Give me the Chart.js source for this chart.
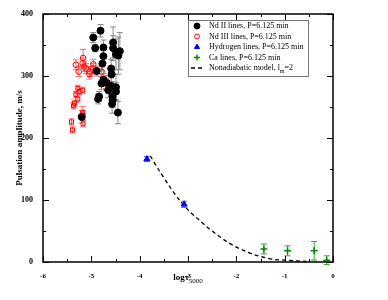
<!DOCTYPE html>
<html>
<head>
<meta charset="utf-8">
<script src="https://cdn.jsdelivr.net/npm/chart.js@4.4.1/dist/chart.umd.min.js"></script>
<style>
  html, body { margin: 0; padding: 0; background: #fff; }
</style>
</head>
<body>
<canvas id="c" width="388" height="300"></canvas>
<script>
// Nd II lines (log tau, amplitude, error)
const ndIIX = [-4.96, -4.81, -4.92, -4.75, -4.55, -4.55, -4.49, -4.41, -4.44, -4.75, -4.77, -4.89, -4.59, -4.58,
  -4.75, -4.68, -4.79, -4.59, -4.49, -4.49, -4.84, -4.86, -4.56, -4.56, -4.57, -4.45, -5.20, -4.65];
const ndIIY = [362, 373, 345, 346, 354, 345, 335, 340, 333, 332, 320, 308, 312, 303,
  294, 289, 288, 284, 282, 275, 267, 263, 267, 261, 255, 241, 234, 277];
const ndIIErr = [8, 10, 6, 12, 25, 20, 25, 30, 30, 10, 12, 8, 15, 12,
  10, 12, 10, 15, 20, 15, 8, 8, 12, 12, 15, 18, 10, 12];

// Nd III lines, upper group (circles)
const ndIIIaX = [-5.32, -5.26, -5.17, -5.18, -5.15, -5.11, -4.96, -5.03, -4.97, -4.79, -4.73, -4.70, -5.04];
const ndIIIaY = [318, 307, 329, 321, 315, 312, 319, 307, 312, 307, 292, 288, 303];
const ndIIIaErr = [8, 8, 14, 8, 8, 8, 8, 8, 8, 8, 8, 8, 8];
// Nd III lines, lower group (squares)
const ndIIIbX = [-5.28, -5.25, -5.18, -5.32, -5.28, -5.35, -5.37, -5.18, -5.17, -5.17, -5.41, -5.39];
const ndIIIbY = [280, 275, 277, 270, 263, 256, 252, 241, 237, 223, 226, 213];
const ndIIIbErr = [5, 5, 5, 5, 5, 5, 5, 10, 8, 5, 5, 5];

// Hydrogen lines
const hX = [-3.85, -3.08];
const hY = [166, 93];
const hErr = [4, 5];

// Ca lines
const caX = [-1.43, -0.94, -0.39, -0.13];
const caY = [21, 18, 18, 3];
const caErr = [8, 8, 15, 7];

// Nonadiabatic model
const modelX = [-3.78, -3.6, -3.4, -3.2, -3.0, -2.8, -2.6, -2.4, -2.2, -2.0, -1.8, -1.6, -1.4, -1.2, -1.0, -0.8, -0.55];
const modelY = [171, 148, 124, 102, 84, 70, 56, 44, 33, 24, 17, 11, 7, 4, 3, 2, 1];

const legendLabels = ['Nd II lines, P=6.125 min', 'Nd III lines, P=6.125 min', 'Hydrogen lines, P=6.125 min',
  'Ca lines, P=6.125 min', 'Nonadiabatic model, l'];

const xTicks = [-6, -5, -4, -3, -2, -1, 0];
const yTicks = [0, 100, 200, 300, 400];

const pts = (xs, ys) => xs.map((x, i) => ({ x, y: ys[i] }));
const SERIF = '"Liberation Serif", "DejaVu Serif", serif';

const ndIIIX = ndIIIaX.concat(ndIIIbX);
const ndIIIY = ndIIIaY.concat(ndIIIbY);
const ndIIIErr = ndIIIaErr.concat(ndIIIbErr);
const ndIIIStyle = ndIIIaX.map(() => 'circle').concat(ndIIIbX.map(() => 'rect'));

const decor = {
  id: 'decor',
  beforeDatasetsDraw(chart) {
    const ctx = chart.ctx;
    const xs = chart.scales.x, ys = chart.scales.y;
    ctx.save();
    chart.data.datasets.forEach((ds) => {
      if (!ds.errors) return;
      ctx.strokeStyle = ds.errColor;
      ctx.lineWidth = 1;
      ds.data.forEach((p, i) => {
        const px = xs.getPixelForValue(p.x);
        const y1 = ys.getPixelForValue(p.y - ds.errors[i]);
        const y2 = ys.getPixelForValue(p.y + ds.errors[i]);
        ctx.beginPath();
        ctx.moveTo(px, y1); ctx.lineTo(px, y2);
        ctx.moveTo(px - 3, y1); ctx.lineTo(px + 3, y1);
        ctx.moveTo(px - 3, y2); ctx.lineTo(px + 3, y2);
        ctx.stroke();
      });
    });
    ctx.restore();
  },
  afterDraw(chart) {
    const ctx = chart.ctx;
    const a = chart.chartArea;
    const xs = chart.scales.x, ys = chart.scales.y;
    ctx.save();
    ctx.strokeStyle = '#000';
    ctx.lineWidth = 1.5;
    ctx.strokeRect(a.left, a.top, a.right - a.left, a.bottom - a.top);
    ctx.lineWidth = 1;
    ctx.beginPath();
    for (let v = xs.min; v <= xs.max + 1e-9; v += 0.5) {
      const px = Math.round(xs.getPixelForValue(v)) + 0.5;
      const len = Number.isInteger(v) ? 6 : 3;
      ctx.moveTo(px, a.bottom); ctx.lineTo(px, a.bottom - len);
      ctx.moveTo(px, a.top); ctx.lineTo(px, a.top + len);
    }
    for (let v = ys.min; v <= ys.max + 1e-9; v += 50) {
      const py = Math.round(ys.getPixelForValue(v)) + 0.5;
      const len = v % 100 === 0 ? 6 : 3;
      ctx.moveTo(a.left, py); ctx.lineTo(a.left + len, py);
      ctx.moveTo(a.right, py); ctx.lineTo(a.right - len, py);
    }
    ctx.stroke();

    // axis titles
    ctx.fillStyle = '#000';
    ctx.font = 'bold 9px ' + SERIF;
    ctx.textBaseline = 'alphabetic';
    const cx = (a.left + a.right) / 2;
    const main = 'log\u03C4';
    const sub = '5000';
    const w1 = ctx.measureText(main).width;
    ctx.font = '7px ' + SERIF;
    const w2 = ctx.measureText(sub).width;
    const sx = cx - (w1 + w2) / 2;
    ctx.font = 'bold 9px ' + SERIF;
    ctx.textAlign = 'left';
    ctx.fillText(main, sx, 280);
    ctx.font = '7px ' + SERIF;
    ctx.fillText(sub, sx + w1, 283);

    ctx.save();
    ctx.translate(19, (a.top + a.bottom) / 2);
    ctx.rotate(-Math.PI / 2);
    ctx.font = 'bold 9px ' + SERIF;
    ctx.textAlign = 'center';
    ctx.fillText('Pulsation amplitude, m/s', 0, 3);
    ctx.restore();

    // legend
    const lx = 188, ly = 20, lw = 120, lh = 56;
    ctx.fillStyle = '#fff';
    ctx.fillRect(lx, ly, lw, lh);
    ctx.strokeStyle = '#777';
    ctx.lineWidth = 1;
    ctx.strokeRect(lx + 0.5, ly + 0.5, lw, lh);
    chart.data.datasets.forEach((ds, i) => {
      const y = ly + 6 + i * 10.5;
      const sxm = lx + 9;
      ctx.save();
      if (ds.showLine) {
        ctx.strokeStyle = ds.borderColor;
        ctx.lineWidth = 1.5;
        ctx.setLineDash([4, 3]);
        ctx.beginPath();
        ctx.moveTo(lx + 3, y); ctx.lineTo(lx + 16, y);
        ctx.stroke();
      } else {
        const style = Array.isArray(ds.pointStyle) ? ds.pointStyle[0] : ds.pointStyle;
        ctx.fillStyle = ds.backgroundColor;
        ctx.strokeStyle = ds.borderColor;
        ctx.lineWidth = ds.borderWidth;
        Chart.helpers.drawPoint(ctx, {
          pointStyle: style, radius: ds.pointRadius * 0.85, borderWidth: ds.borderWidth, rotation: 0
        }, sxm, y);
      }
      ctx.restore();
      ctx.fillStyle = '#000';
      ctx.font = '8px ' + SERIF;
      ctx.textAlign = 'left';
      ctx.textBaseline = 'middle';
      ctx.fillText(legendLabels[i], lx + 21, y);
      if (ds.showLine) {
        const w = ctx.measureText(legendLabels[i]).width;
        ctx.font = '6px ' + SERIF;
        ctx.fillText('m', lx + 21 + w, y + 3);
        const wm = ctx.measureText('m').width;
        ctx.font = '8px ' + SERIF;
        ctx.fillText('=2', lx + 21 + w + wm, y);
      }
    });
    ctx.restore();
  }
};

new Chart(document.getElementById('c'), {
  type: 'scatter',
  data: {
    datasets: [
      {
        label: legendLabels[0],
        data: pts(ndIIX, ndIIY),
        errors: ndIIErr,
        errColor: '#8a8a8a',
        pointStyle: 'circle',
        pointRadius: 3.5,
        backgroundColor: '#000',
        borderColor: '#000',
        borderWidth: 1,
      },
      {
        label: legendLabels[1],
        data: pts(ndIIIX, ndIIIY),
        errors: ndIIIErr,
        errColor: '#ff6666',
        pointStyle: ndIIIStyle,
        pointRadius: 2.8,
        backgroundColor: 'rgba(255,255,255,0)',
        borderColor: '#ff0000',
        borderWidth: 1,
      },
      {
        label: legendLabels[2],
        data: pts(hX, hY),
        errors: hErr,
        errColor: '#6666ff',
        pointStyle: 'triangle',
        pointRadius: 3.5,
        backgroundColor: '#0000ff',
        borderColor: '#0000ff',
        borderWidth: 1,
      },
      {
        label: legendLabels[3],
        data: pts(caX, caY),
        errors: caErr,
        errColor: '#33aa33',
        pointStyle: 'cross',
        pointRadius: 3.5,
        backgroundColor: '#008800',
        borderColor: '#008800',
        borderWidth: 1.5,
      },
      {
        label: legendLabels[4],
        data: pts(modelX, modelY),
        showLine: true,
        borderColor: '#000',
        borderWidth: 1.3,
        borderDash: [4, 3],
        pointRadius: 0,
        tension: 0.3,
      },
    ],
  },
  options: {
    responsive: false,
    devicePixelRatio: 1,
    animation: false,
    layout: { padding: { left: 0, right: 55, top: 14, bottom: 0 } },
    scales: {
      x: {
        type: 'linear',
        min: -6,
        max: 0,
        afterBuildTicks: (s) => { s.ticks = xTicks.map((v) => ({ value: v })); },
        afterFit: (s) => { s.height = 38; },
        grid: { display: false },
        border: { display: false },
        ticks: {
          maxRotation: 0,
          padding: 2,
          color: '#000',
          font: { family: SERIF, weight: 'bold', size: 7 },
        },
      },
      y: {
        type: 'linear',
        min: 0,
        max: 400,
        afterBuildTicks: (s) => { s.ticks = yTicks.map((v) => ({ value: v })); },
        afterFit: (s) => { s.width = 43; },
        grid: { display: false },
        border: { display: false },
        ticks: {
          padding: 2,
          color: '#000',
          font: { family: SERIF, weight: 'bold', size: 8 },
        },
      },
    },
    plugins: {
      legend: { display: false },
      tooltip: { enabled: false },
    },
  },
  plugins: [decor],
});
</script>
</body>
</html>
